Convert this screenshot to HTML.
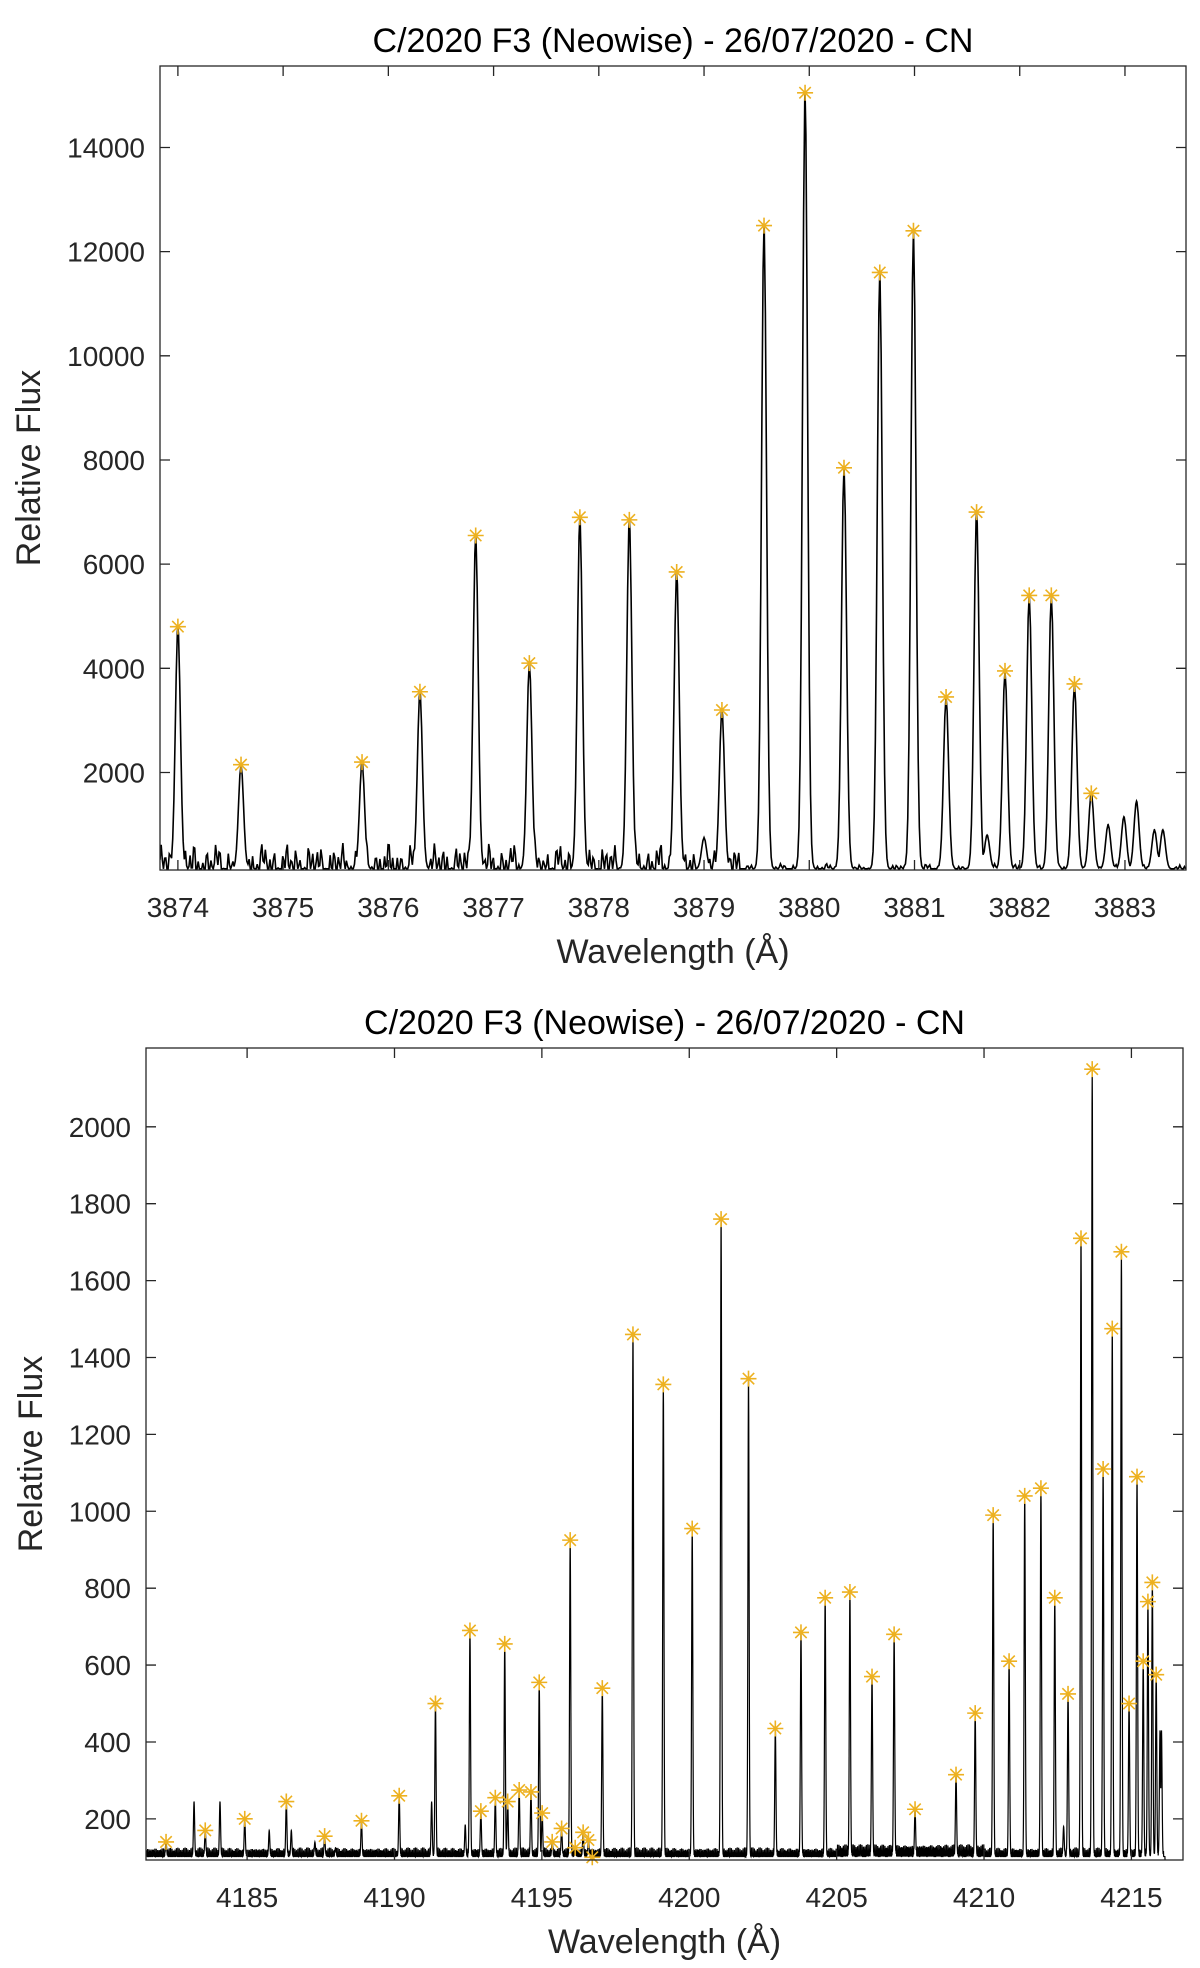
<!DOCTYPE html>
<html><head><meta charset="utf-8">
<style>
html,body{margin:0;padding:0;background:#fff;}
svg{display:block;font-family:"Liberation Sans",Arial,sans-serif;}
</style></head>
<body>
<svg id="fig" width="1200" height="1968" viewBox="0 0 1200 1968" xmlns="http://www.w3.org/2000/svg">
<rect width="1200" height="1968" fill="#fff"/>
<g id="top"></g>
<g id="bot"></g>
</svg>
<script>
// ---------- Top chart data (3874–3883 Å) ----------
const topPeakWl = [3874.0,3874.6,3875.75,3876.30,3876.83,3877.34,3877.82,3878.29,3878.74,3879.17,3879.57,3879.96,3880.33,3880.67,3880.99,3881.30,3881.59,3881.86,3882.09,3882.30,3882.52,3882.68];
const topPeakFlux = [4800,2150,2200,3550,6550,4100,6900,6850,5850,3200,12500,15050,7850,11600,12400,3450,7000,3950,5400,5400,3700,1600];
const topExtraWl = [3879.0,3881.69,3882.84,3882.99,3883.11,3883.28,3883.36];
const topExtraFlux = [750,800,1000,1150,1450,900,900];
const topXTicks = [3874,3875,3876,3877,3878,3879,3880,3881,3882,3883];
const topYTicks = [2000,4000,6000,8000,10000,12000,14000];

// ---------- Bottom chart data (4182–4216 Å) ----------
const botPeakWl = [4182.25,4183.58,4184.92,4186.33,4187.63,4188.88,4190.16,4191.39,4192.56,4192.93,4193.42,4193.74,4193.84,4194.23,4194.63,4194.91,4195.01,4195.35,4195.67,4195.96,4196.13,4196.40,4196.58,4196.71,4197.05,4198.09,4199.12,4200.10,4201.08,4202.01,4202.92,4203.79,4204.61,4205.45,4206.20,4206.95,4207.66,4209.05,4209.70,4210.31,4210.85,4211.38,4211.93,4212.40,4212.85,4213.29,4213.67,4214.04,4214.35,4214.66,4214.92,4215.19,4215.40,4215.56,4215.71,4215.84];
const botPeakFlux = [140,170,200,245,155,195,260,500,690,220,255,655,245,275,270,555,215,140,175,925,125,165,145,100,540,1460,1330,955,1760,1345,435,685,775,790,570,680,225,315,475,990,610,1040,1060,775,525,1710,2150,1110,1475,1675,500,1090,610,765,815,575];
const botExtraWl = [4183.2,4184.08,4185.75,4186.5,4187.3,4188.0,4191.26,4192.4,4212.7,4215.97,4216.02];
const botExtraFlux = [245,245,170,170,140,125,245,185,180,430,430];
const botXTicks = [4185,4190,4195,4200,4205,4210,4215];
const botYTicks = [200,400,600,800,1000,1200,1400,1600,1800,2000];

const NS = "http://www.w3.org/2000/svg";
function mk(parent, tag, attrs){ const e=document.createElementNS(NS,tag); for(const k in attrs) e.setAttribute(k,attrs[k]); parent.appendChild(e); return e; }

function drawChart(g, cfg){
  const {L,R,T,B,xmin,xmax,ymin,ymax} = cfg;
  const X = v => L + (v - xmin)/(xmax - xmin)*(R-L);
  const Y = v => B - (v - ymin)/(ymax - ymin)*(B-T);
  const clipId = cfg.id+'clip';
  const cp = mk(g,'clipPath',{id:clipId}); mk(cp,'rect',{x:L,y:T,width:R-L,height:B-T});
  const peaksW = cfg.pw.concat(cfg.ew), peaksF = cfg.pf.concat(cfg.ef);
  const xs = [];
  for(let v=xmin; v<=xmax; v+=cfg.step) xs.push(v);
  peaksW.forEach(w=>xs.push(w));
  xs.sort((a,b)=>a-b);
  let pts=[];
  xs.forEach((w,i)=>{
    let f = cfg.base + cfg.noise(w,i);
    for(let k=0;k<peaksW.length;k++){
      const d=(w-peaksW[k])/cfg.sig;
      if(Math.abs(d)<6){ const a=peaksF[k]-cfg.base; f=Math.max(f, cfg.base + a*Math.exp(-0.5*d*d)); }
    }
    pts.push(X(w).toFixed(2)+','+Y(f).toFixed(2));
  });
  const line = mk(g,'polyline',{points:pts.join(' '),fill:'none',stroke:'#000','stroke-width':cfg.lw,'clip-path':'url(#'+clipId+')'});
  
  
  cfg.pw.forEach((w,i)=>{
    const cx=X(w), cy=Y(cfg.pf[i]), s=8, d=5.7;
    const m = mk(g,'path',{d:`M${cx-s},${cy}H${cx+s}M${cx},${cy-s}V${cy+s}M${cx-d},${cy-d}L${cx+d},${cy+d}M${cx-d},${cy+d}L${cx+d},${cy-d}`,stroke:'#EDB120','stroke-width':1.6,fill:'none'});
    
    
  });
  const box = mk(g,'rect',{x:L,y:T,width:R-L,height:B-T,fill:'none',stroke:'#262626','stroke-width':1.3});
  
  
  cfg.xt.forEach(t=>{
    const x=X(t);
    mk(g,'path',{d:`M${x},${B}V${B-10}M${x},${T}V${T+10}`,stroke:'#262626','stroke-width':1.3});
    const tx=mk(g,'text',{x:x,y:cfg.xtY,'text-anchor':'middle','font-size':28,fill:'#262626'});
    tx.textContent=t;
    
    
  });
  cfg.yt.forEach(t=>{
    const y=Y(t);
    mk(g,'path',{d:`M${L},${y}H${L+10}M${R},${y}H${R-10}`,stroke:'#262626','stroke-width':1.3});
    const tx=mk(g,'text',{x:L-15,y:y+10,'text-anchor':'end','font-size':28,fill:'#262626'});
    tx.textContent=t;
    
    
  });
  const ti=mk(g,'text',{x:(L+R)/2,y:cfg.titleY,'text-anchor':'middle','font-size':34,fill:'#000'});
  ti.textContent='C/2020 F3 (Neowise) - 26/07/2020 - CN';
  
  
  const xl=mk(g,'text',{x:(L+R)/2,y:cfg.xlY,'text-anchor':'middle','font-size':34,fill:'#262626'});
  xl.textContent='Wavelength (Å)';
  
  
  const yc=(T+B)/2;
  const yl=mk(g,'text',{x:cfg.ylX,y:yc,'text-anchor':'middle','font-size':34,fill:'#262626',transform:`rotate(-90 ${cfg.ylX} ${yc})`});
  yl.textContent='Relative Flux';
  
  
}

drawChart(document.getElementById('top'),{
  id:'t',L:160,R:1186,T:66,B:870,xmin:3873.83,xmax:3883.58,ymin:128,ymax:15564,
  pw:topPeakWl,pf:topPeakFlux,ew:topExtraWl,ef:topExtraFlux,xt:topXTicks,yt:topYTicks,
  step:0.011,sig:0.024,base:150,lw:1.6,
  noise:(w,i)=> (w<3879.4 ? 1:0.2)*Math.max(0,230*Math.sin(i*1.7)+160*Math.sin(i*0.63+1)+120*Math.sin(i*0.29)+40),
  xtY:917,xlY:963,titleY:52,ylX:40
});
drawChart(document.getElementById('bot'),{
  id:'b',L:146,R:1183,T:1048,B:1860,xmin:4181.57,xmax:4216.75,ymin:93,ymax:2205,
  pw:botPeakWl,pf:botPeakFlux,ew:botExtraWl,ef:botExtraFlux,xt:botXTicks,yt:botYTicks,
  step:0.006,sig:0.02,base:102,lw:1.2,
  noise:(w,i)=> (w>4216.1?-10: Math.max(0,14*Math.sin(i*2.3)+10*Math.sin(i*0.77)+ (w>4205&&w<4210?8:0))),
  xtY:1907,xlY:1953,titleY:1034,ylX:42
});
</script>
</body></html>
